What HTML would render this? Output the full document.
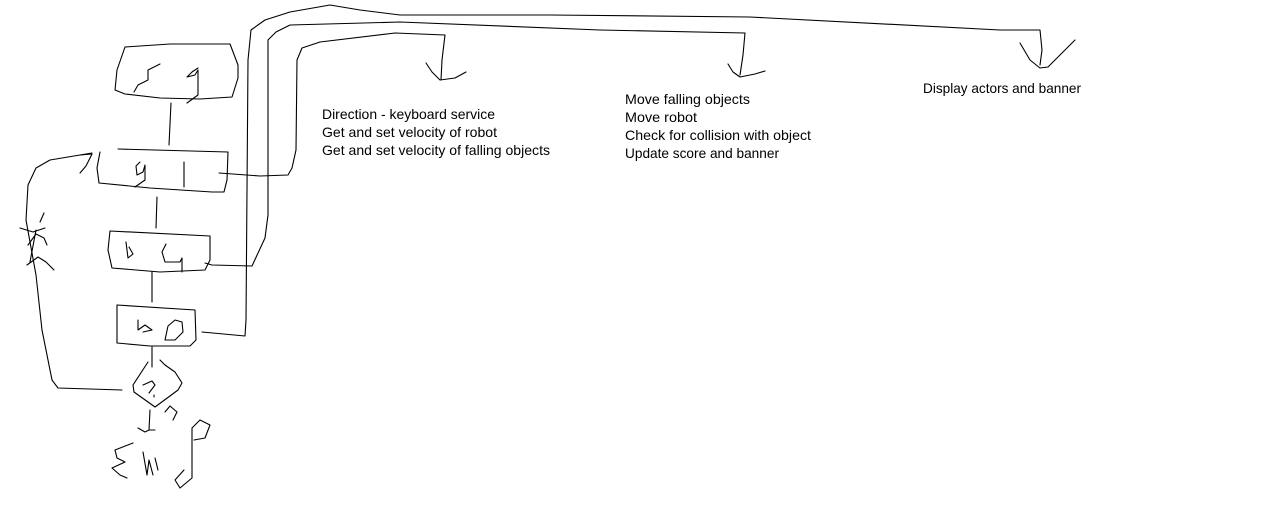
<!DOCTYPE html>
<html><head><style>
body{margin:0;background:#fff;width:1266px;height:528px;overflow:hidden}
svg{position:absolute;left:0;top:0}
text{font-family:"Liberation Sans",sans-serif;font-size:13.8px;fill:#000}
</style></head><body>
<svg width="1266" height="528" viewBox="0 0 1266 528" fill="none" stroke="#000" stroke-width="1.1" stroke-linejoin="round" stroke-linecap="round">
<!-- SG box -->
<path d="M125,47 L170,44 L230,44 L238,65 L238,78 L232,97 L200,99 L160,98 L125,94 L115,90 L117,70 Z"/>
<path d="M160,64 L148,70 L148,80 L138,85 L134,92"/><path d="M198,68 L192,72 L187,77 L195,75 L198,70 L198,95 L187,103"/>
<path d="M171,103 L169,145"/>
<!-- GI box -->
<path d="M118,149 L228,152 L227,180 L224,192 L212,192 L150,188 L99,183 L97,168 L100,152"/>
<path d="M140,162 L136,166 L137,175 L143,172 L145,165 L145,180 L135,187"/><path d="M184,162 L184,187"/>
<path d="M219,173 L260,176 L288,175 L292,168 L296,150 L297,60 L302,48 L320,42 L395,33 L445,35 L442,60 L441,80"/>
<path d="M426,63 L432,72 L440,80 L455,78 L466,72"/>
<!-- left loop -->
<path d="M92,153 L50,160 L36,168 L28,185 L26,220 L36,275 L42,330 L52,380 L58,388 L122,390"/>
<path d="M80,155 L92,154 L86,166 L80,173"/>
<path d="M20,228 L33,232 L45,228"/><path d="M44,213 L40,222"/><path d="M28,245 L36,234 L44,238 L47,245"/><path d="M27,265 L38,257 L46,262 L54,270"/><path d="M36,230 L30,262"/>
<path d="M157,197 L156,228"/>
<!-- DG box -->
<path d="M110,231 L210,236 L210,260 L205,270 L160,272 L112,268 L108,250 Z"/>
<path d="M126,242 L128,258 L133,254 L129,247"/><path d="M166,244 L162,252 L165,262 L180,262 L182,258 L182,272"/>
<path d="M205,263 L212,265 L252,266 L265,238 L268,215 L268,40 L276,32 L290,25 L400,22 L600,30 L745,33 L743,55 L740,75"/>
<path d="M728,64 L733,72 L740,77 L755,74 L765,71"/>
<path d="M152,272 L152,302"/>
<!-- DO box -->
<path d="M117,305 L195,310 L196,340 L190,346 L150,346 L117,343 L117,320 Z"/>
<path d="M138,320 L138,330 L145,325 L152,330 L143,332"/><path d="M175,320 L168,326 L165,340 L175,340 L183,332 L182,322 Z"/>
<path d="M202,332 L245,336 L246,320 L248,60 L251,30 L265,20 L290,12 L330,5 L360,10 L400,15 L550,15 L750,17 L1000,30 L1040,30 L1042,50 L1040,65"/>
<path d="M1020,43 L1030,60 L1040,68 L1048,67 L1063,52 L1075,40"/>
<path d="M152,347 L152,367"/>
<!-- diamond -->
<path d="M148,362 L133,385 L134,392 L148,402 L155,407 L170,396 L178,390 L182,383 L175,372 L165,365 L160,360"/>
<path d="M143,385 L152,381 L155,385 L149,393"/><path d="M154,395 L154,397"/>
<path d="M150,410 L149,430 L145,432 L138,428 M149,430 L155,430"/>
<!-- END -->
<path d="M133,443 L115,450 L117,458 L125,462 L112,468 L120,475 L127,478"/>
<path d="M143,452 L147,475 L149,460 L153,475 M155,458 L158,470"/>
<path d="M165,412 L170,406 L177,412 L173,420"/><path d="M192,428 L200,420 L210,425 L205,438 L194,440"/>
<path d="M192,428 L192,478 L180,488 L175,480 L184,470"/>
<g stroke="none">
<text x="322" y="119" textLength="173" lengthAdjust="spacingAndGlyphs">Direction - keyboard service</text>
<text x="322" y="137" textLength="175" lengthAdjust="spacingAndGlyphs">Get and set velocity of robot</text>
<text x="322" y="155" textLength="228" lengthAdjust="spacingAndGlyphs">Get and set velocity of falling objects</text>
<text x="625" y="104" textLength="125" lengthAdjust="spacingAndGlyphs">Move falling objects</text>
<text x="625" y="122" textLength="72" lengthAdjust="spacingAndGlyphs">Move robot</text>
<text x="625" y="140" textLength="186" lengthAdjust="spacingAndGlyphs">Check for collision with object</text>
<text x="625" y="158" textLength="154" lengthAdjust="spacingAndGlyphs">Update score and banner</text>
<text x="923" y="93" textLength="158" lengthAdjust="spacingAndGlyphs">Display actors and banner</text>
</g>
</svg>
</body></html>
